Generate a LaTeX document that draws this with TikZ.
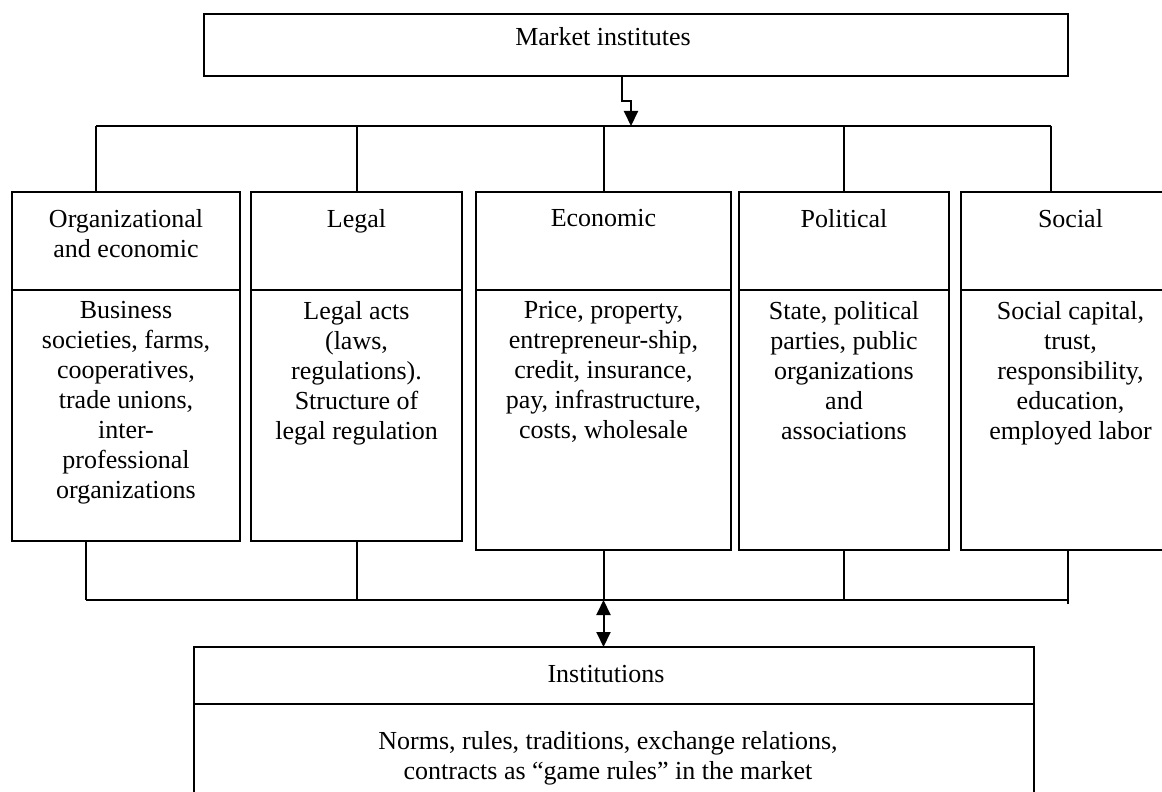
\documentclass[tikz,border=0pt]{standalone}
\usepackage{fontspec}
\setmainfont{Liberation Serif}
\usepackage{tikz}
\usetikzlibrary{positioning,arrows.meta}
\tikzset{
  box/.style={draw,line width=1pt,inner sep=0pt,outer sep=0pt},
  txt/.style={align=center,inner sep=0pt,font=\fontsize{13pt}{15pt}\selectfont},
  arr/.style={-{Triangle[width=7pt,length=7.5pt]}},
  darr/.style={{Triangle[width=7pt,length=7.5pt]}-{Triangle[width=7pt,length=7.5pt]}}
}
\begin{document}
\begin{tikzpicture}[x=0.5pt,y=-0.5pt,line width=1pt]
\useasboundingbox (0,0) rectangle (1162,792);
\clip (0,0) rectangle (1162,792);

\node[box,anchor=north west,minimum width=432pt,minimum height=31pt] (market) at (204,14) {};
\node[txt,below=6pt of market.north,xshift=-16.5pt] (markettxt) {Market institutes};

% kinds of institutes
\node[box,anchor=north west,minimum width=114pt,minimum height=49pt] (orghead) at (12,192) {};
\node[box,minimum width=114pt,minimum height=125.5pt,below=0pt of orghead] (orgbody) {};
\node[box,anchor=north west,minimum width=105.5pt,minimum height=49pt] (leghead) at (251,192) {};
\node[box,minimum width=105.5pt,minimum height=125.5pt,below=0pt of leghead] (legbody) {};
\node[box,anchor=north west,minimum width=127.5pt,minimum height=49pt] (ecohead) at (476,192) {};
\node[box,minimum width=127.5pt,minimum height=130pt,below=0pt of ecohead] (ecobody) {};
\node[box,anchor=north west,minimum width=105pt,minimum height=49pt] (polhead) at (739,192) {};
\node[box,minimum width=105pt,minimum height=130pt,below=0pt of polhead] (polbody) {};
\node[box,anchor=north west,minimum width=109.5pt,minimum height=49pt] (sochead) at (961,192) {};
\node[box,minimum width=109.5pt,minimum height=130pt,below=0pt of sochead] (socbody) {};

\node[txt,below=8pt of orghead.north] (orgtitle) {Organizational\\and economic};
\node[txt,below=8pt of leghead.north] (legtitle) {Legal};
\node[txt,below=8pt of ecohead.north] (ecotitle) {Economic};
\node[txt,below=8pt of polhead.north] (poltitle) {Political};
\node[txt,below=8pt of sochead.north] (soctitle) {Social};

\node[txt,below=5pt of orgbody.north] (orgtxt) {Business\\societies, farms,\\cooperatives,\\trade unions,\\inter-\\professional\\organizations};
\node[txt,below=5pt of legbody.north] (legtxt) {Legal acts\\(laws,\\regulations).\\Structure of\\legal regulation};
\node[txt,below=5pt of ecobody.north] (ecotxt) {Price, property,\\entrepreneur-ship,\\credit, insurance,\\pay, infrastructure,\\costs, wholesale};
\node[txt,below=5pt of polbody.north] (poltxt) {State, political\\parties, public\\organizations\\and\\associations};
\node[txt,below=5pt of socbody.north] (soctxt) {Social capital,\\trust,\\responsibility,\\education,\\employed labor};

\node[box,anchor=north west,minimum width=420pt,minimum height=28.5pt] (insthead) at (194,647) {};
\node[box,minimum width=420pt,minimum height=58pt,below=0pt of insthead] (instbody) {};
\node[txt,below=8.5pt of insthead.north,xshift=-4pt] (insttitle) {Institutions};
\node[txt,below=13pt of instbody.north,xshift=-3pt] (insttxt) {Norms, rules, traditions, exchange relations,\\contracts as “game rules” in the market};

% upper bus
\coordinate (top1) at (96,126);
\coordinate (top5) at (1051,126);
\coordinate (bend) at (622,101);
\draw[arr] (market.south -| bend) -- (bend) -- ++(9,0) -- ++(0,25);
\draw (top1) -- (top5);
\draw (top1) -- (top1 |- orghead.north);
\draw (leghead.north) -- (leghead.north |- top1);
\draw (ecohead.north) -- (ecohead.north |- top1);
\draw (polhead.north) -- (polhead.north |- top1);
\draw (top5) -- (top5 |- sochead.north);

% lower bus
\coordinate (low1) at (86,600);
\coordinate (low5) at (1068,600);
\draw (low1) -- (low5);
\draw (orgbody.south -| low1) -- (low1);
\draw (legbody.south) -- (legbody.south |- low1);
\draw (ecobody.south) -- (ecobody.south |- low1);
\draw (polbody.south) -- (polbody.south |- low1);
\draw (socbody.south -| low5) -- ++(0,54);
\draw[darr] (ecobody.south |- low1) -- (insthead.north -| ecobody.south);
\end{tikzpicture}
\end{document}
